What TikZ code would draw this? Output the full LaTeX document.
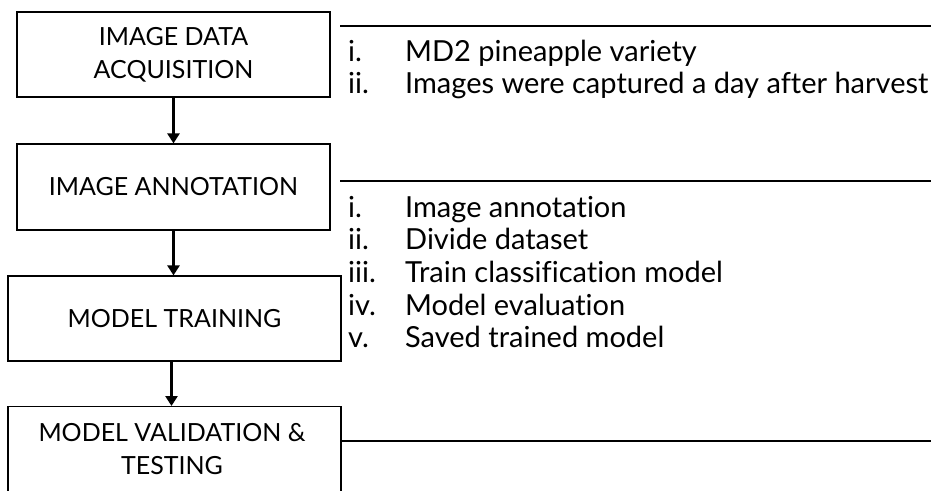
\documentclass[tikz,border=0pt]{standalone}
\usepackage{fontspec}
\setmainfont{Lato}[Ligatures={NoCommon}]
\usetikzlibrary{arrows.meta}
\tikzset{
  stage/.style={draw=black, line width=1.2pt, fill=white, align=center, inner sep=0pt,
    font=\fontsize{25}{33}\selectfont},
  flow/.style={line width=2.6pt, -{Triangle[length=10pt,width=12pt]}},
  rule/.style={line width=1.4pt},
  num/.style={anchor=base west, inner sep=0pt, font=\fontsize{29}{33}\selectfont},
  item/.style={anchor=base west, inner sep=0pt, font=\fontsize{29}{33}\selectfont},
}
\begin{document}
\begin{tikzpicture}[x=1pt,y=-1pt]
\clip (0,0) rectangle (931,490);
\fill[white] (0,0) rectangle (931,490);
% stages
\node[stage, minimum width=313pt, minimum height=85pt] (s1) at (173.5,54.5) {IMAGE DATA\\ACQUISITION};
\node[stage, minimum width=313pt, minimum height=86pt] (s2) at (173.5,187) {IMAGE ANNOTATION};
\node[stage, minimum width=333pt, minimum height=85pt] (s3) at (174.5,318.5) {MODEL TRAINING};
\node[stage, minimum width=333pt, minimum height=110pt, anchor=north] (s4) at (174.5,406) {};
\node[align=center, inner sep=0pt, font=\fontsize{25}{33}\selectfont] (s4t) at (172,449) {MODEL VALIDATION \&\\TESTING};
% arrows
\draw[flow] (s1.south) -- (s2.north);
\draw[flow] (s2.south) -- (s3.north -| s2.south);
\draw[flow] ([xshift=-3pt]s3.south) -- ([xshift=-3pt]s4.north);
% rules
\coordinate (r1a) at (340,26); \coordinate (r1b) at (931,26);
\coordinate (r2a) at (340,181); \coordinate (r2b) at (931,181);
\coordinate (r3a) at (341,441); \coordinate (r3b) at (931,441);
\draw[rule] (r1a) -- (r1b);
\draw[rule] (r2a) -- (r2b);
\draw[rule] (r3a) -- (r3b);
% list 1
\node[num] (a1n) at (348,61) {i.};   \node[item] (a1) at (405,61) {MD2 pineapple variety};
\node[num] (a2n) at (348,93) {ii.};  \node[item] (a2) at (405,93) {Images were captured a day after harvest};
% list 2
\node[num] (b1n) at (348,217) {i.};   \node[item] (b1) at (405,217) {Image annotation};
\node[num] (b2n) at (348,249) {ii.};  \node[item] (b2) at (405,249) {Divide dataset};
\node[num] (b3n) at (348,282) {iii.}; \node[item] (b3) at (405,282) {Train classification model};
\node[num] (b4n) at (348,315) {iv.};  \node[item] (b4) at (405,315) {Model evaluation};
\node[num] (b5n) at (348,347) {v.};   \node[item] (b5) at (405,347) {Saved trained model};
\end{tikzpicture}
\end{document}
